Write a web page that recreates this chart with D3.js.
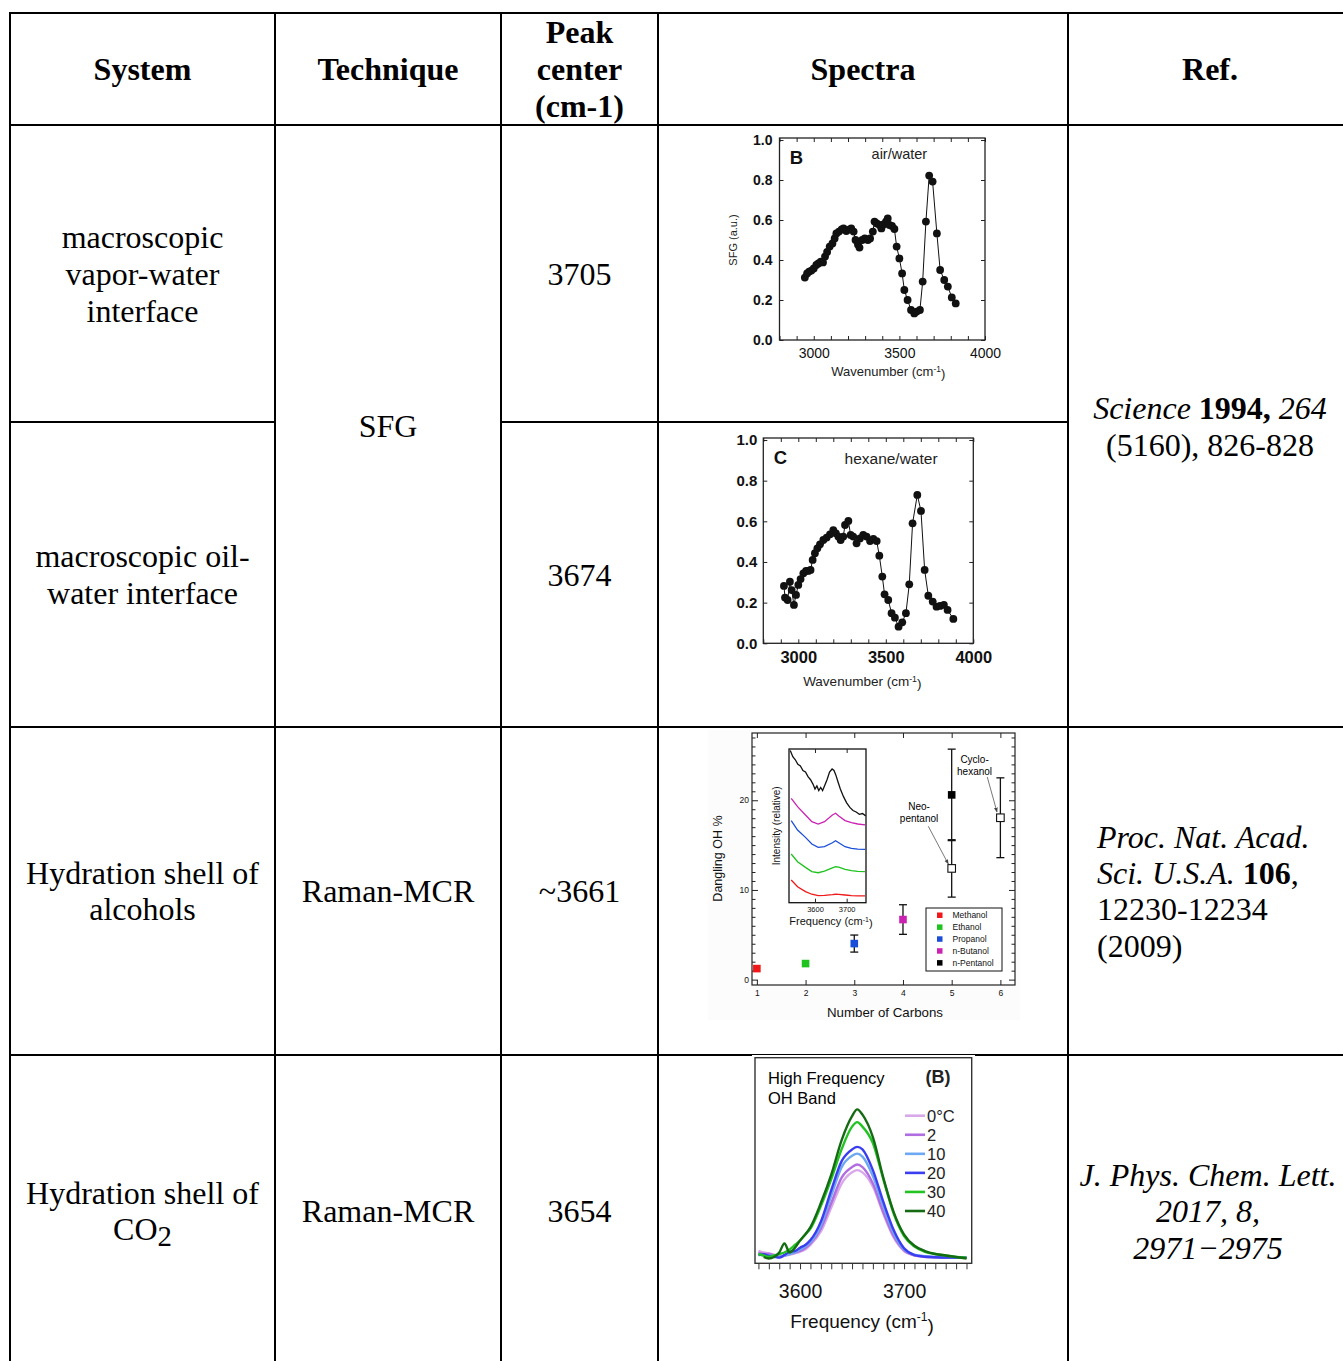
<!DOCTYPE html>
<html>
<head>
<meta charset="utf-8">
<script src="https://cdn.jsdelivr.net/npm/d3@7"></script>
<style>
  body { margin: 0; background: #fff; }
</style>
</head>
<body>
<div id="table"></div>
<script>
// ---------- Table content ----------
const headers = ["System", "Technique", ["Peak", "center", "(cm-1)"], "Spectra", "Ref."];
const systemLines = [
    ["macroscopic", "vapor-water", "interface"],
    ["macroscopic oil-", "water interface"],
    ["Hydration shell of", "alcohols"],
    ["Hydration shell of", [["CO", ""], ["2", "sub"]]]
];
const techniques = ["SFG", "Raman-MCR", "Raman-MCR"];
const peakCenters = ["3705", "3674", "~3661", "3654"];
const refSfg = [
    [["Science ", "italic"], ["1994, ", "bold"], ["264", "italic"]],
    [["(5160), 826-828", ""]]
];
const refAlcohol = [
    [["Proc. Nat. Acad.", "italic"]],
    [["Sci. U.S.A.", "italic"], [" ", ""], ["106", "bold"], [",", ""]],
    [["12230-12234", ""]],
    [["(2009)", ""]]
];
const refCo2 = [
    [["J. Phys. Chem. Lett.", "italic"]],
    [["2017, 8,", "italic"]],
    [["2971\u22122975", "italic"]]
];

// ---------- Panel B: air/water SFG ----------
const airWavenumber = [2948, 2961, 2973, 2986, 3000, 3015, 3027, 3041, 3054, 3066, 3078, 3093, 3109, 3122, 3132,
    3147, 3163, 3174, 3190, 3205, 3219, 3233, 3244, 3258, 3267, 3283, 3298, 3316, 3329, 3345, 3355, 3368, 3384,
    3395, 3407, 3422, 3432, 3442, 3457, 3471, 3484, 3500, 3516, 3529, 3548, 3568, 3587, 3601, 3620, 3636, 3655,
    3674, 3694, 3719, 3738, 3762, 3783, 3806, 3829];
const airSfg = [0.312, 0.333, 0.342, 0.347, 0.358, 0.375, 0.383, 0.392, 0.388, 0.417, 0.44, 0.467, 0.483, 0.508, 0.533,
    0.542, 0.553, 0.558, 0.545, 0.552, 0.558, 0.542, 0.5, 0.478, 0.462, 0.5, 0.508, 0.5, 0.508, 0.542, 0.592, 0.583, 0.575,
    0.558, 0.578, 0.592, 0.608, 0.575, 0.57, 0.555, 0.467, 0.408, 0.333, 0.25, 0.2, 0.15, 0.133, 0.142, 0.15, 0.292, 0.592,
    0.822, 0.792, 0.533, 0.35, 0.30, 0.267, 0.213, 0.183];

// ---------- Panel C: hexane/water SFG ----------
const hexWavenumber = [2918, 2924, 2939, 2952, 2962, 2975, 2987, 3000, 3013, 3029, 3044, 3057, 3070, 3082, 3095, 3109,
    3124, 3143, 3162, 3181, 3200, 3215, 3229, 3242, 3257, 3267, 3286, 3299, 3314, 3333, 3352, 3371, 3390, 3410, 3429,
    3448, 3463, 3480, 3493, 3514, 3533, 3552, 3573, 3594, 3615, 3634, 3653, 3680, 3701, 3722, 3743, 3768, 3790, 3810,
    3832, 3853, 3886];
const hexSfg = [0.282, 0.225, 0.213, 0.303, 0.262, 0.189, 0.238, 0.287, 0.316, 0.344, 0.356, 0.356, 0.361, 0.41, 0.443,
    0.467, 0.487, 0.508, 0.52, 0.536, 0.557, 0.541, 0.525, 0.508, 0.525, 0.582, 0.602, 0.533, 0.525, 0.492, 0.516, 0.533,
    0.525, 0.503, 0.513, 0.503, 0.431, 0.328, 0.241, 0.213, 0.148, 0.126, 0.082, 0.103, 0.148, 0.29, 0.59, 0.73, 0.651,
    0.361, 0.234, 0.205, 0.18, 0.184, 0.189, 0.164, 0.12];

// ---------- Panel: alcohols ----------
const alcoholNames = ["Methanol", "Ethanol", "Propanol", "n-Butanol", "n-Pentanol"];
const alcoholCarbons = [1, 2, 3, 4, 5];
const danglingOH = [1.23, 1.79, 4.02, 6.7, 20.6];
const danglingErr = [0, 0, 0.95, 1.65, 5.1];
const alcoholColors = ["#f01818", "#1ec31e", "#1a4ed8", "#cc22b4", "#000000"];
const branchedNames = [["Neo-", "pentanol"], ["Cyclo-", "hexanol"]];
const branchedCarbons = [5, 6];
const branchedOH = [12.4, 18.05];
const branchedErr = [3.2, 4.45];

// inset spectra
const insetBlackFreq = [3522, 3530, 3538, 3546, 3554, 3562, 3570, 3578, 3586, 3594, 3600, 3606, 3612, 3618, 3624, 3630,
    3638, 3646, 3654, 3660, 3666, 3672, 3680, 3690, 3700, 3710, 3720, 3730, 3740, 3750, 3760];
const insetBlack = [0.99, 0.95, 0.93, 0.90, 0.89, 0.86, 0.85, 0.82, 0.80, 0.77, 0.74, 0.76, 0.73, 0.75, 0.73, 0.76,
    0.80, 0.85, 0.87, 0.86, 0.83, 0.79, 0.74, 0.69, 0.65, 0.62, 0.60, 0.59, 0.575, 0.58, 0.565];
const insetFreq = [3525, 3545, 3570, 3590, 3610, 3630, 3655, 3665, 3675, 3695, 3715, 3735, 3758];
const insetButanol = [0.679, 0.625, 0.571, 0.527, 0.512, 0.527, 0.571, 0.582, 0.564, 0.534, 0.521, 0.512, 0.506];
const insetPropanol = [0.534, 0.473, 0.425, 0.382, 0.36, 0.365, 0.39, 0.403, 0.39, 0.364, 0.354, 0.349, 0.347];
const insetEthanol = [0.317, 0.267, 0.23, 0.202, 0.195, 0.205, 0.226, 0.234, 0.232, 0.217, 0.208, 0.204, 0.202];
const insetMethanol = [0.148, 0.104, 0.072, 0.055, 0.046, 0.048, 0.052, 0.055, 0.054, 0.05, 0.046, 0.044, 0.044];

// ---------- Panel: CO2 high-frequency OH band ----------
const co2Freq = [3560, 3565, 3570, 3575, 3580, 3585, 3590, 3595, 3600, 3605, 3610, 3620, 3630, 3640, 3650, 3655,
    3660, 3670, 3680, 3690, 3700, 3710, 3720, 3730, 3740, 3750, 3760];
const co2Temps = ["0\u00B0C", "2", "10", "20", "30", "40"];
const co2Colors = ["#d9a8ea", "#b06ee0", "#6ea8f2", "#3a3ef0", "#22c322", "#146b14"];
const co2T0 = [0.04, 0.03, 0.025, 0.015, 0.005, 0.01, 0.015, 0.025, 0.035, 0.05, 0.08, 0.17, 0.33, 0.49, 0.565, 0.58,
    0.565, 0.47, 0.29, 0.13, 0.04, 0.01, 0.0, -0.003, -0.005, -0.005, -0.005];
const co2T2 = [0.03, 0.02, 0.02, 0.01, 0.0, 0.01, 0.02, 0.03, 0.04, 0.06, 0.09, 0.19, 0.36, 0.53, 0.60, 0.617,
    0.60, 0.49, 0.30, 0.14, 0.045, 0.012, 0.004, 0.0, -0.003, -0.005, -0.005];
const co2T10 = [0.02, 0.01, 0.01, 0.005, 0.0, 0.01, 0.02, 0.03, 0.05, 0.07, 0.10, 0.21, 0.41, 0.60, 0.675, 0.69,
    0.67, 0.54, 0.34, 0.16, 0.05, 0.015, 0.005, 0.0, -0.003, -0.005, -0.005];
const co2T20 = [0.013, 0.018, 0.007, 0.002, -0.004, 0.013, 0.036, 0.04, 0.062, 0.08, 0.113, 0.236, 0.447, 0.64, 0.718, 0.735,
    0.718, 0.58, 0.369, 0.18, 0.058, 0.013, 0.002, -0.002, -0.004, -0.004, -0.005];
const co2T30 = [0.02, 0.01, 0.0, 0.01, 0.02, 0.03, 0.05, 0.08, 0.11, 0.15, 0.19, 0.34, 0.52, 0.72, 0.87, 0.90,
    0.87, 0.76, 0.52, 0.29, 0.14, 0.07, 0.035, 0.02, 0.01, 0.0, -0.005];
const co2T40 = [null, 0.0, -0.01, 0.0, 0.03, 0.09, 0.03, 0.06, 0.11, 0.15, 0.20, 0.36, 0.55, 0.78, 0.94, 0.985,
    0.95, 0.80, 0.53, 0.30, 0.15, 0.075, 0.04, 0.02, 0.01, 0.0, -0.01];
const co2Series = [co2T0, co2T2, co2T10, co2T20, co2T30, co2T40];

// Fonts
const serif = "Liberation Serif";
const sans = "Liberation Sans";

// Table geometry
const colX = [10, 275, 501, 658, 1068, 1352];
const rowY = [13, 125, 422, 727, 1055, 1367];
const cellSize = 32;
const lineGap = 36.5;

const svg = d3.select("#table")
    .append("svg")
    .attr("width", 1343)
    .attr("height", 1361);

svg.append("rect").attr("width", 1343).attr("height", 1361).attr("fill", "white");

const colMid = i => (colX[i] + colX[i + 1]) / 2;
const rowMid = (a, b) => (rowY[a] + rowY[b]) / 2;

// write a block of (possibly styled) lines centred vertically on cy
function writeLines(g, x, cy, lines, opts) {
    const n = lines.length;
    lines.forEach((line, i) => {
        const t = g.append("text")
            .attr("x", x)
            .attr("y", cy + (i - (n - 1) / 2) * opts.gap)
            .attr("dy", "0.35em")
            .attr("text-anchor", opts.anchor || "middle")
            .attr("font-family", opts.family || serif)
            .attr("font-size", opts.size)
            .attr("font-weight", opts.weight || "normal")
            .style("fill", "#000");
        const segs = typeof line === "string" ? [[line, ""]] : line;
        segs.forEach(s => {
            const ts = t.append("tspan").text(s[0]);
            if (s[1] === "italic") ts.attr("font-style", "italic");
            if (s[1] === "bold") ts.attr("font-weight", "bold");
            if (s[1] === "sub") ts.attr("dy", "0.2em").attr("font-size", opts.size * 0.9);
        });
    });
}

// ---------- Table borders ----------
const grid = svg.append("g").attr("stroke", "#000").attr("stroke-width", 2);
colX.slice(0, 5).forEach(x => {
    grid.append("line").attr("x1", x).attr("x2", x).attr("y1", rowY[0] - 1).attr("y2", 1361);
});
[rowY[0], rowY[1], rowY[3], rowY[4]].forEach(y => {
    grid.append("line").attr("x1", colX[0]).attr("x2", colX[5]).attr("y1", y).attr("y2", y);
});
grid.append("line").attr("x1", colX[0]).attr("x2", colX[1]).attr("y1", rowY[2]).attr("y2", rowY[2]);
grid.append("line").attr("x1", colX[2]).attr("x2", colX[4]).attr("y1", rowY[2]).attr("y2", rowY[2]);

// ---------- Table text ----------
const txt = svg.append("g");
headers.forEach((h, i) => {
    writeLines(txt, colMid(i), rowMid(0, 1), Array.isArray(h) ? h : [h],
        { size: 32, weight: "bold", gap: 37 });
});
systemLines.forEach((lines, i) => {
    writeLines(txt, colMid(0), rowMid(i + 1, i + 2), lines, { size: cellSize, gap: i === 0 ? 37 : lineGap });
});
writeLines(txt, colMid(1), rowMid(1, 3), [techniques[0]], { size: cellSize, gap: lineGap });
writeLines(txt, colMid(1), rowMid(3, 4), [techniques[1]], { size: cellSize, gap: lineGap });
writeLines(txt, colMid(1), rowMid(4, 5), [techniques[2]], { size: cellSize, gap: lineGap });
peakCenters.forEach((p, i) => {
    writeLines(txt, colMid(2), rowMid(i + 1, i + 2), [p], { size: cellSize, gap: lineGap });
});
writeLines(txt, colMid(4), rowMid(1, 3), refSfg, { size: cellSize, gap: 37 });
writeLines(txt, 1097, rowMid(3, 4), refAlcohol, { size: cellSize, gap: 36.4, anchor: "start" });
writeLines(txt, colMid(4) - 2, rowMid(4, 5), refCo2, { size: cellSize, gap: 36.5 });

// style an axis group: remove domain line, set fonts and colours
function styleAxis(a, size, weight, color) {
    a.select(".domain").remove();
    a.attr("font-family", sans).attr("font-size", size).attr("font-weight", weight || "normal");
    a.selectAll("line").attr("stroke", color || "#222");
    a.selectAll("text").style("fill", "#111");
}

// ---------- SFG panels ----------
function drawSfg(p) {
    const g = svg.append("g");
    const x = d3.scaleLinear().domain([2800, 4000]).range(p.xRange);
    const y = d3.scaleLinear().domain([0, 1]).range(p.yRange);
    const xTicks = d3.range(2800, 4001, 100);
    const yTicks = d3.range(0, 1.01, 0.2);

    // frame
    g.append("rect")
        .attr("x", p.xRange[0]).attr("y", p.yRange[1] - 2)
        .attr("width", p.xRange[1] - p.xRange[0]).attr("height", p.yRange[0] - p.yRange[1] + 2)
        .attr("fill", "none").attr("stroke", "#222").attr("stroke-width", 1.3);

    // X axis
    g.append("g")
        .attr("transform", `translate(0, ${p.yRange[0]})`)
        .call(d3.axisBottom(x).tickValues(xTicks).tickFormat(d => d % 500 === 0 ? d : "")
            .tickSizeInner(-4).tickSizeOuter(0).tickPadding(p.xPad))
        .call(a => styleAxis(a, p.xSize, p.xWeight));
    g.append("g")
        .attr("transform", `translate(0, ${p.yRange[1] - 2})`)
        .call(d3.axisTop(x).tickValues(xTicks).tickFormat("").tickSizeInner(-4).tickSizeOuter(0))
        .call(a => styleAxis(a, 10));

    // Y axis
    g.append("g")
        .attr("transform", `translate(${p.xRange[0]}, 0)`)
        .call(d3.axisLeft(y).tickValues(yTicks).tickFormat(d3.format(".1f"))
            .tickSizeInner(-4).tickSizeOuter(0).tickPadding(p.yPad))
        .call(a => styleAxis(a, p.ySize, "bold"));
    g.append("g")
        .attr("transform", `translate(${p.xRange[1]}, 0)`)
        .call(d3.axisRight(y).tickValues(yTicks).tickFormat("").tickSizeInner(-4).tickSizeOuter(0))
        .call(a => styleAxis(a, 10));

    // trace
    const pts = p.xs.map((d, i) => [d, p.ys[i]]);
    g.append("path")
        .datum(pts)
        .attr("d", d3.line().x(d => x(d[0])).y(d => y(d[1])))
        .attr("fill", "none").attr("stroke", "#111").attr("stroke-width", 1);
    g.selectAll("circle.pt")
        .data(pts)
        .enter().append("circle")
        .attr("cx", d => x(d[0])).attr("cy", d => y(d[1]))
        .attr("r", 3.9).attr("fill", "#111");

    // labels
    g.append("text").text(p.letter)
        .attr("x", x(p.letterPos[0])).attr("y", y(p.letterPos[1]))
        .attr("font-family", sans).attr("font-size", 18.5).attr("font-weight", "bold").style("fill", "#111");
    g.append("text").text(p.title)
        .attr("x", x(p.titlePos[0])).attr("y", y(p.titlePos[1]))
        .attr("text-anchor", "middle")
        .attr("font-family", sans).attr("font-size", p.titleSize).style("fill", "#222");
    const xl = g.append("text")
        .attr("x", (p.xRange[0] + p.xRange[1]) / 2 + p.xLabelShift).attr("y", p.xLabelY)
        .attr("text-anchor", "middle")
        .attr("font-family", sans).attr("font-size", p.xLabelSize).style("fill", "#222");
    xl.append("tspan").text("Wavenumber (cm");
    xl.append("tspan").text("-1").attr("dy", "-0.45em").attr("font-size", p.xLabelSize * 0.65);
    xl.append("tspan").text(")").attr("dy", "0.45em");
    if (p.yLabel) {
        g.append("text").text(p.yLabel)
            .attr("transform", `translate(${p.xRange[0] - 43}, ${y(0.5)}) rotate(-90)`)
            .attr("text-anchor", "middle")
            .attr("font-family", sans).attr("font-size", 11).style("fill", "#222");
    }
}

drawSfg({
    xs: airWavenumber, ys: airSfg, xRange: [779.5, 985], yRange: [340, 140],
    xPad: 8, xSize: 14, xWeight: "normal", yPad: 7, ySize: 14,
    letter: "B", letterPos: [2860, 0.88], title: "air/water", titlePos: [3500, 0.905], titleSize: 14.5,
    xLabelShift: 6, xLabelY: 376, xLabelSize: 13, yLabel: "SFG (a.u.)"
});
drawSfg({
    xs: hexWavenumber, ys: hexSfg, xRange: [763.3, 973.3], yRange: [643.3, 440],
    xPad: 8, xSize: 16.5, xWeight: "bold", yPad: 6, ySize: 15,
    letter: "C", letterPos: [2860, 0.88], title: "hexane/water", titlePos: [3530, 0.88], titleSize: 15.5,
    xLabelShift: -6, xLabelY: 686, xLabelSize: 13.5, yLabel: null
});

// ---------- Alcohol panel ----------
{
    const g = svg.append("g");
    const x = d3.scaleLinear().domain([0.9, 6.3]).range([752, 1015]);
    const y = d3.scaleLinear().domain([-0.6, 27.5]).range([985, 733]);

    g.append("rect").attr("x", 708).attr("y", 730).attr("width", 312).attr("height", 290).attr("fill", "#fcfcfc");
    g.append("rect")
        .attr("x", 752).attr("y", 733).attr("width", 263).attr("height", 252)
        .attr("fill", "white").attr("stroke", "#222").attr("stroke-width", 1.2);

    // Y axis: minor ticks every 1, major every 10
    const yMinor = d3.range(0, 28).filter(d => d % 10 !== 0);
    [["axisLeft", 752], ["axisRight", 1015]].forEach(([fn, px]) => {
        g.append("g").attr("transform", `translate(${px}, 0)`)
            .call(d3[fn](y).tickValues(yMinor).tickFormat("").tickSizeInner(-3.5).tickSizeOuter(0))
            .call(a => styleAxis(a, 8));
        g.append("g").attr("transform", `translate(${px}, 0)`)
            .call(d3[fn](y).tickValues([0, 10, 20]).tickFormat(fn === "axisLeft" ? d3.format("d") : "")
                .tickSizeInner(-6).tickSizeOuter(0).tickPadding(3))
            .call(a => styleAxis(a, 8.5));
    });
    // X axis
    g.append("g").attr("transform", "translate(0, 985)")
        .call(d3.axisBottom(x).tickValues(alcoholCarbons.concat([6])).tickFormat(d3.format("d"))
            .tickSizeInner(-5).tickSizeOuter(0).tickPadding(5))
        .call(a => styleAxis(a, 8.5));
    g.append("g").attr("transform", "translate(0, 733)")
        .call(d3.axisTop(x).tickValues(alcoholCarbons.concat([6])).tickFormat("").tickSizeInner(-5).tickSizeOuter(0))
        .call(a => styleAxis(a, 8));

    g.append("text").text("Number of Carbons")
        .attr("x", 885).attr("y", 1017).attr("text-anchor", "middle")
        .attr("font-family", sans).attr("font-size", 13.3).style("fill", "#111");
    g.append("text").text("Dangling OH %")
        .attr("transform", `translate(722, ${y(13.5)}) rotate(-90)`).attr("text-anchor", "middle")
        .attr("font-family", sans).attr("font-size", 12.5).style("fill", "#111");

    // inset spectra
    const xi = d3.scaleLinear().domain([3518, 3761]).range([789, 866]);
    const yi = d3.scaleLinear().domain([0, 1]).range([902.7, 749]);
    g.append("rect").attr("x", 789).attr("y", 749).attr("width", 77).attr("height", 153.7)
        .attr("fill", "white").attr("stroke", "#111").attr("stroke-width", 1.3);
    g.append("g").attr("transform", "translate(0, 902.7)")
        .call(d3.axisBottom(xi).tickValues([3600, 3700]).tickFormat(d3.format("d"))
            .tickSizeInner(-4).tickSizeOuter(0).tickPadding(4))
        .call(a => styleAxis(a, 7.5));
    g.append("g").attr("transform", "translate(0, 749)")
        .call(d3.axisTop(xi).tickValues([3600, 3700]).tickFormat("").tickSizeInner(-4).tickSizeOuter(0))
        .call(a => styleAxis(a, 7.5));
    const insetSets = [
        [insetBlackFreq, insetBlack, "#111"],
        [insetFreq, insetButanol, alcoholColors[3]],
        [insetFreq, insetPropanol, alcoholColors[2]],
        [insetFreq, insetEthanol, alcoholColors[1]],
        [insetFreq, insetMethanol, alcoholColors[0]]
    ];
    const iline = d3.line().x(d => xi(d[0])).y(d => yi(d[1])).curve(d3.curveLinear);
    insetSets.forEach(s => {
        g.append("path")
            .datum(s[0].map((f, i) => [f, s[1][i]]))
            .attr("d", iline)
            .attr("fill", "none").attr("stroke", s[2]).attr("stroke-width", 1.3);
    });
    const fl = g.append("text").attr("x", 831).attr("y", 925).attr("text-anchor", "middle")
        .attr("font-family", sans).attr("font-size", 11).style("fill", "#111");
    fl.append("tspan").text("Frequency (cm");
    fl.append("tspan").text("-1").attr("dy", "-0.5em").attr("font-size", 7);
    fl.append("tspan").text(")").attr("dy", "0.5em");
    g.append("text").text("Intensity (relative)")
        .attr("transform", `translate(780, ${yi(0.5)}) rotate(-90)`).attr("text-anchor", "middle")
        .attr("font-family", sans).attr("font-size", 10).style("fill", "#111");

    // error bars
    const bars = alcoholCarbons.map((c, i) => ({ c: c, v: danglingOH[i], e: danglingErr[i] }))
        .concat(branchedCarbons.map((c, i) => ({ c: c, v: branchedOH[i], e: branchedErr[i] })))
        .filter(d => d.e > 0);
    bars.forEach(d => {
        g.append("line").attr("x1", x(d.c)).attr("x2", x(d.c)).attr("y1", y(d.v - d.e)).attr("y2", y(d.v + d.e))
            .attr("stroke", "#111").attr("stroke-width", 1.3);
        [d.v - d.e, d.v + d.e].forEach(v => {
            g.append("line").attr("x1", x(d.c) - 4).attr("x2", x(d.c) + 4).attr("y1", y(v)).attr("y2", y(v))
                .attr("stroke", "#111").attr("stroke-width", 1.3);
        });
    });

    // filled squares for linear alcohols
    g.selectAll("rect.alc")
        .data(alcoholCarbons)
        .enter().append("rect")
        .attr("x", d => x(d) - 3.8).attr("y", (d, i) => y(danglingOH[i]) - 3.8)
        .attr("width", 7.6).attr("height", 7.6)
        .attr("fill", (d, i) => alcoholColors[i]);
    // open squares for branched alcohols
    g.selectAll("rect.br")
        .data(branchedCarbons)
        .enter().append("rect")
        .attr("x", d => x(d) - 3.8).attr("y", (d, i) => y(branchedOH[i]) - 3.8)
        .attr("width", 7.6).attr("height", 7.6)
        .attr("fill", "white").attr("stroke", "#111").attr("stroke-width", 1.1);

    // annotations
    g.append("defs").append("marker")
        .attr("id", "arr").attr("viewBox", "0 0 10 10").attr("refX", 9).attr("refY", 5)
        .attr("markerWidth", 6).attr("markerHeight", 6).attr("orient", "auto")
        .append("path").attr("d", "M0,1 L10,5 L0,9 z").attr("fill", "#444");
    const notePos = [[4.33, 18.65], [5.47, 23.85]];
    const arrows = [[[4.52, 17.1], [4.93, 12.9]], [[5.73, 22.6], [5.93, 18.7]]];
    branchedNames.forEach((n, i) => {
        writeLines(g, x(notePos[i][0]), y(notePos[i][1]), n, { size: 10, gap: 12.5, family: sans });
        g.append("line")
            .attr("x1", x(arrows[i][0][0])).attr("y1", y(arrows[i][0][1]))
            .attr("x2", x(arrows[i][1][0])).attr("y2", y(arrows[i][1][1]))
            .attr("stroke", "#555").attr("stroke-width", 0.8).attr("marker-end", "url(#arr)");
    });

    // legend
    const lg = g.append("g").attr("transform", "translate(926, 908)");
    lg.append("rect").attr("width", 76).attr("height", 63).attr("fill", "white")
        .attr("stroke", "#111").attr("stroke-width", 1);
    alcoholNames.forEach((n, i) => {
        lg.append("rect").attr("x", 11).attr("y", 4.5 + i * 11.9).attr("width", 5.5).attr("height", 5.5)
            .attr("fill", alcoholColors[i]);
        lg.append("text").text(n).attr("x", 26.5).attr("y", 7.2 + i * 11.9).attr("dy", "0.35em")
            .attr("font-family", sans).attr("font-size", 8.5).style("fill", "#111");
    });
}

// ---------- CO2 panel ----------
{
    const g = svg.append("g");
    const x = d3.scaleLinear().domain([3556.7, 3765]).range([755, 971.7]);
    const y = d3.scaleLinear().domain([-0.042, 1.33]).range([1263.3, 1057.7]);

    g.append("rect").attr("x", 752).attr("y", 1055).attr("width", 223).attr("height", 285).attr("fill", "white");
    g.append("rect").attr("x", 755).attr("y", 1057.7).attr("width", 216.7).attr("height", 205.6)
        .attr("fill", "white").attr("stroke", "#333").attr("stroke-width", 1.4);

    g.append("g").attr("transform", "translate(0, 1263.3)")
        .call(d3.axisBottom(x).tickValues(d3.range(3560, 3765, 10)).tickFormat(d => d % 100 === 0 ? d : "")
            .tickSizeInner(6).tickSizeOuter(0).tickPadding(15))
        .call(a => styleAxis(a, 19.5, "normal", "#333"));
    const fq = g.append("text").attr("x", 862).attr("y", 1328).attr("text-anchor", "middle")
        .attr("font-family", sans).attr("font-size", 19).style("fill", "#111");
    fq.append("tspan").text("Frequency (cm");
    fq.append("tspan").text("-1").attr("dy", "-0.55em").attr("font-size", 12);
    fq.append("tspan").text(")").attr("dy", "0.55em");

    const cline = d3.line()
        .defined(d => d[1] !== null)
        .x(d => x(d[0])).y(d => y(d[1]))
        .curve(d3.curveMonotoneX);
    co2Series.forEach((s, i) => {
        g.append("path")
            .datum(co2Freq.map((f, j) => [f, s[j]]))
            .attr("d", cline)
            .attr("fill", "none").attr("stroke", co2Colors[i]).attr("stroke-width", 2.4);
    });

    writeLines(g, 768, 1088, ["High Frequency", "OH Band"], { size: 16.5, gap: 19.5, anchor: "start", family: sans });
    g.append("text").text("(B)").attr("x", 938).attr("y", 1077).attr("dy", "0.35em").attr("text-anchor", "middle")
        .attr("font-family", sans).attr("font-size", 18).attr("font-weight", "bold").style("fill", "#222");

    co2Temps.forEach((t, i) => {
        const ly = 1115.7 + i * 19.06;
        g.append("line").attr("x1", 905).attr("x2", 925).attr("y1", ly).attr("y2", ly)
            .attr("stroke", co2Colors[i]).attr("stroke-width", 2.6);
        g.append("text").text(t).attr("x", 927).attr("y", ly).attr("dy", "0.36em")
            .attr("font-family", sans).attr("font-size", 16.5).style("fill", "#222");
    });
}
</script>
</body>
</html>
